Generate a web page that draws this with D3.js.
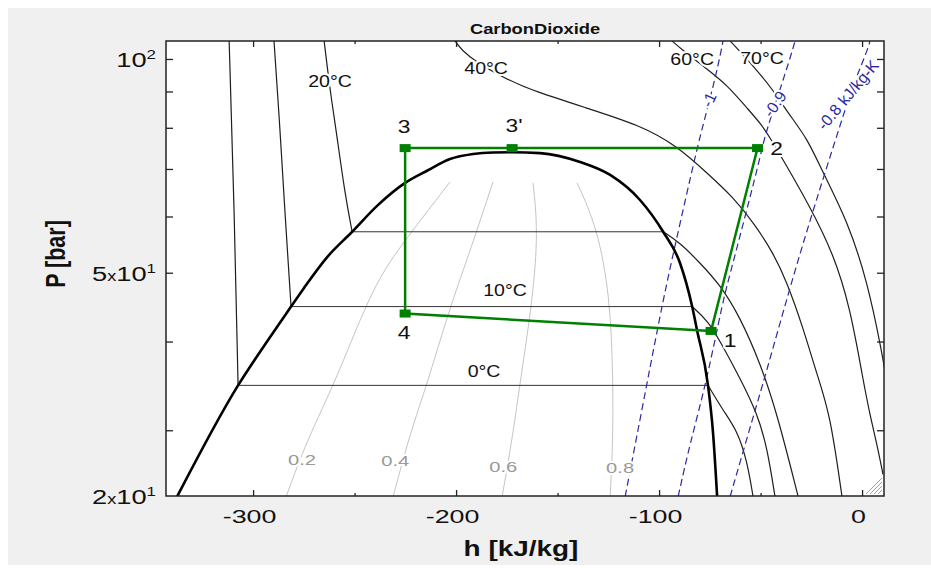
<!DOCTYPE html>
<html>
<head>
<meta charset="utf-8">
<title>CarbonDioxide P-h</title>
<script src="https://cdn.jsdelivr.net/npm/d3@7"></script>
<style>
body { margin:0; background:#fff; }
svg text { font-family: "Liberation Sans", Arial, sans-serif; }
</style>
</head>
<body>
<svg id="chart" width="931" height="568"></svg>
<script>
// h in kJ/kg, P in bar
var hTicks = [-300, -200, -100, 0];
var hMinor = [-250, -150, -50];
var pTicks = [30, 40, 50, 60, 70, 80, 90, 100];
var pLabelVals = [24.24, 50, 100];
var pLabelMant = ["2", "5", ""];
var pLabelExp = ["1", "1", "2"];

// saturation dome, liquid side -> critical point -> vapour side
var satDome = [[-337.4,24.2],[-307.4,34.7],[-291.6,40.6],[-281.3,44.8],[-274.9,47.6],[-263.5,52.6],
  [-251.2,57.1],[-238.4,62.3],[-225.1,66.9],[-214.3,69.6],[-203.0,72.3],[-191.6,73.5],[-181.8,73.85],
  [-172.4,73.9],[-158.6,73.7],[-138.9,71.6],[-124.1,68.65],[-109.4,63.3],[-98.0,57.1],[-89.7,51.6],
  [-83.7,44.8],[-81.3,41.5],[-75.9,34.7],[-73.4,29.7],[-71.4,24.2]];

// isotherms (liquid part / vapour part)
var iso0Liq = [[-311.8,106],[-309.4,63.3],[-307.4,34.7]];
var iso0Vap = [[-75.9,34.7],[-68.5,32.0],[-61.6,30.0],[-56.7,27.2],[-53.7,24.2]];
var iso10Liq = [[-289.7,106],[-286.7,79.4],[-284.7,63.3],[-281.3,44.8]];
var iso10Vap = [[-83.7,44.8],[-75.9,42.8],[-69.0,39.6],[-60.1,35.5],[-51.7,31.7],[-46.8,28.4],[-42.9,24.2]];
var iso20Liq = [[-265.0,106],[-262.1,90.4],[-259.1,79.4],[-254.7,64.4],[-251.2,57.1]];
var iso20Vap = [[-98.0,57.1],[-89.7,55.1],[-79.8,51.6],[-70.0,48.1],[-60.1,43.3],[-50.2,37.3],[-41.9,31.7],[-31.5,24.2]];
var iso40 = [[-200.5,106],[-195.6,101.3],[-175.9,93.7],[-160.1,89.8],[-137.4,85.6],[-109.4,80.7],[-91.1,75.4],
  [-76.4,69.1],[-63.5,63.9],[-52.7,58.4],[-43.8,53.3],[-37.4,48.8],[-29.1,41.9],[-22.2,35.9],[-15.8,31.7],[-9.9,24.2]];
var iso60 = [[-93.6,106],[-89.7,103.6],[-75.9,96.5],[-66.5,91.9],[-56.7,85.3],[-49.3,80.7],[-45.3,77.4],
  [-38.9,72.1],[-25.6,61.9],[-14.3,53.3],[-5.9,44.75],[0.5,35.3],[3.9,31.5],[7.4,28.6],[10.3,26.0]];
var iso70 = [[-65.0,106],[-62.6,104.3],[-52.7,97.1],[-43.8,90.4],[-36.5,83.9],[-27.1,77.4],[-19.2,69.1],
  [-7.4,59.3],[2.5,48.8],[9.9,38.5],[12.8,34.2]];

// vapour quality lines
var q02 = [[-283.7,24.2],[-273.4,29.1],[-258.6,35.5],[-240.8,48.1],[-225.1,55.6],[-203.0,67.1]];
var q04 = [[-231.0,24.2],[-222.7,29.7],[-214.3,34.8],[-203.0,44.75],[-194.6,52.1],[-181.8,67.1]];
var q06 = [[-177.3,24.2],[-171.9,29.7],[-168.5,35.0],[-162.1,46.2],[-159.6,57.4],[-162.1,66.9]];
var q08 = [[-124.1,24.2],[-122.7,29.1],[-122.7,35.5],[-124.1,46.2],[-130.5,58.0],[-140.4,66.9]];

// isentropes [kJ/kg-K]
var sM10 = [[-116.7,24.2],[-105.9,35.0],[-98.0,45.8],[-92.1,54.7],[-81.3,74.9],[-78.3,80.7],[-71.4,96.2],[-68.5,106]];
var sM09 = [[-90.6,24.2],[-84.7,28.8],[-76.4,35.3],[-68.5,45.8],[-64.5,50.4],[-51.2,70.7],[-49.3,74.9],
  [-46.3,80.7],[-36.9,97.1],[-33.0,106]];
var sM08 = [[-65.0,24.2],[-53.7,31.3],[-47.8,35.7],[-35.5,47.7],[-25.6,59.3],[-17.2,70.7],[-10.8,80.7],
  [-4.4,91.9],[2.5,102.6],[3.9,106]];

// cycle states
var cycleNames = ["1", "2", "3'", "3", "4"];
var cycleH = [-74.4, -51.5, -172.4, -225.1, -225.1];
var cycleP = [41.4, 74.9, 74.9, 74.9, 43.8];

// curve labels: text, h, P
var isoLabels = [["20°C",-262.1,91.3],["40°C",-185.2,95.2],["60°C",-83.7,98.1],["70°C",-49.3,98.4],
  ["10°C",-175.9,46.4],["0°C",-186.2,35.7]];
var qLabels = [["0.2",-275.9,26.8],["0.4",-230.0,26.7],["0.6",-176.8,26.2],["0.8",-119.2,26.1]];
var sLabels = [["-1",-75.4,87.6],["-0.9",-42.9,86.4],["-0.8 kJ/kg-K",-6.9,89.0]];

var svg = d3.select("#chart");
var plotL = 166, plotR = 884, plotT = 41, plotB = 496;

var x = d3.scaleLinear().domain([-342.9, 10.8]).range([plotL, plotR]);
var y = d3.scaleLog().domain([24.24, 106]).range([plotB, plotT]);

svg.append("rect").attr("x", 8).attr("y", 8).attr("width", 923).attr("height", 557).attr("fill", "#f0f0f0");
svg.append("rect").attr("x", plotL).attr("y", plotT).attr("width", plotR - plotL).attr("height", plotB - plotT).attr("fill", "#fff");

svg.append("clipPath").attr("id", "plotclip").append("rect")
  .attr("x", plotL).attr("y", plotT).attr("width", plotR - plotL).attr("height", plotB - plotT);
var plot = svg.append("g").attr("clip-path", "url(#plotclip)");

function lineWith(c){
  return d3.line().x(function(d){ return x(d[0]); }).y(function(d){ return y(d[1]); }).curve(c);
}
var smooth = lineWith(d3.curveBasis);
var dome = lineWith(d3.curveMonotoneX);
var straight = lineWith(d3.curveLinear);

// quality lines
[q02, q04, q06, q08].forEach(function(q){
  plot.append("path").attr("d", smooth(q)).attr("fill", "none").attr("stroke", "#c4c4c4").attr("stroke-width", 1);
});

// isotherms
[[iso0Liq, iso0Vap], [iso10Liq, iso10Vap], [iso20Liq, iso20Vap]].forEach(function(p){
  plot.append("path").attr("d", straight([p[0][p[0].length - 1], p[1][0]]))
    .attr("fill", "none").attr("stroke", "#333").attr("stroke-width", 1);
  p.forEach(function(part){
    plot.append("path").attr("d", smooth(part)).attr("fill", "none").attr("stroke", "#1e1e1e").attr("stroke-width", 1.2);
  });
});
[iso40, iso60, iso70].forEach(function(t){
  plot.append("path").attr("d", smooth(t)).attr("fill", "none").attr("stroke", "#1e1e1e").attr("stroke-width", 1.2);
});

// isentropes
[sM10, sM09, sM08].forEach(function(s){
  plot.append("path").attr("d", smooth(s)).attr("fill", "none").attr("stroke", "#2a2aa0")
    .attr("stroke-width", 1.2).attr("stroke-dasharray", "7,4");
});

// saturation dome
plot.append("path").attr("d", dome(satDome)).attr("fill", "none").attr("stroke", "#000").attr("stroke-width", 2.6);

// labels on curves (white halo cuts the lines)
function halo(sel){
  return sel.attr("stroke", "#fff").attr("stroke-width", 4).attr("paint-order", "stroke").attr("stroke-linejoin", "round");
}
isoLabels.forEach(function(l){
  halo(plot.append("text").text(l[0]).attr("text-anchor", "middle").attr("font-size", 17).attr("fill", "#111")
    .attr("transform", "translate(" + x(l[1]) + "," + y(l[2]) + ") scale(1.15,1)"));
});
qLabels.forEach(function(l){
  halo(plot.append("text").text(l[0]).attr("text-anchor", "middle").attr("font-size", 15.5).attr("fill", "#999")
    .attr("transform", "translate(" + x(l[1]) + "," + y(l[2]) + ") scale(1.3,1)"));
});
var sAngles = [-65, -55, -50];
sLabels.forEach(function(l, i){
  halo(plot.append("text").text(l[0]).attr("text-anchor", "middle").attr("dominant-baseline", "central")
    .attr("font-size", 16).attr("fill", "#2a2aa0")
    .attr("transform", "translate(" + x(l[1]) + "," + y(l[2]) + ") rotate(" + sAngles[i] + ")"));
});

// cycle
var cyc = cycleH.map(function(h, i){ return [h, cycleP[i]]; });
plot.append("path").attr("d", straight(cyc.concat([cyc[0]]))).attr("fill", "none")
  .attr("stroke", "#008000").attr("stroke-width", 2.5);
plot.selectAll("rect.state").data(cyc).enter().append("rect").attr("class", "state")
  .attr("x", function(d){ return x(d[0]) - 5.5; }).attr("y", function(d){ return y(d[1]) - 4; })
  .attr("width", 11).attr("height", 8).attr("fill", "#008000");
var labelOff = [[19, 16], [19, 7], [2, -16], [-1, -15], [-1, 25]];
cyc.forEach(function(d, i){
  halo(plot.append("text").text(cycleNames[i]).attr("text-anchor", "middle").attr("font-size", 19).attr("fill", "#111")
    .attr("transform", "translate(" + (x(d[0]) + labelOff[i][0]) + "," + (y(d[1]) + labelOff[i][1]) + ") scale(1.2,1)"));
});

// size grip in the corner
for (var i = 0; i < 4; i++) {
  svg.append("line").attr("x1", 866 + 4 * i).attr("y1", 494).attr("x2", 882).attr("y2", 478 + 4 * i)
    .attr("stroke", "#a0a0a0").attr("stroke-width", 1);
}

// frame and ticks
svg.append("rect").attr("x", plotL).attr("y", plotT).attr("width", plotR - plotL).attr("height", plotB - plotT)
  .attr("fill", "none").attr("stroke", "#222").attr("stroke-width", 1.5);

function tickStyle(g){
  g.select(".domain").remove();
  g.attr("color", "#222").attr("font-family", null).attr("font-size", null);
  g.selectAll(".tick line").attr("stroke-width", 1.3);
}
var gx = svg.append("g").attr("transform", "translate(0," + plotB + ")")
  .call(d3.axisBottom(x).tickValues(hTicks).tickSize(-6).tickFormat(function(d){ return String(d); }));
tickStyle(gx);
gx.selectAll(".tick text").attr("y", null).attr("dy", null).attr("font-size", 18.5).attr("fill", "#111")
  .attr("transform", "translate(-4,27) scale(1.45,1)");
svg.append("g").attr("transform", "translate(0," + plotB + ")")
  .call(d3.axisBottom(x).tickValues(hMinor).tickSize(-3).tickFormat(function(){ return ""; })).call(tickStyle);
svg.append("g").attr("transform", "translate(0," + plotT + ")")
  .call(d3.axisTop(x).tickValues(hTicks).tickSize(-6).tickFormat(function(){ return ""; })).call(tickStyle);
svg.append("g").attr("transform", "translate(0," + plotT + ")")
  .call(d3.axisTop(x).tickValues(hMinor).tickSize(-3).tickFormat(function(){ return ""; })).call(tickStyle);
svg.append("g").attr("transform", "translate(" + plotL + ",0)")
  .call(d3.axisLeft(y).tickValues(pTicks).tickSize(-7).tickFormat(function(){ return ""; })).call(tickStyle);
svg.append("g").attr("transform", "translate(" + plotR + ",0)")
  .call(d3.axisRight(y).tickValues(pTicks).tickSize(-7).tickFormat(function(){ return ""; })).call(tickStyle);

pLabelVals.forEach(function(v, i){
  var t = svg.append("text").attr("text-anchor", "end").attr("fill", "#111")
    .attr("transform", "translate(156," + (y(v) + 8) + ") scale(1.3,1)");
  if (pLabelMant[i]) {
    t.append("tspan").attr("font-size", 21).text(pLabelMant[i]);
    t.append("tspan").attr("font-size", 14).text("x");
  }
  t.append("tspan").attr("font-size", 21).text("10");
  t.append("tspan").attr("font-size", 13).attr("dy", -8).text(pLabelExp[i]);
});

// titles
svg.append("text").text("CarbonDioxide").attr("text-anchor", "middle").attr("font-weight", "bold")
  .attr("font-size", 15.4).attr("fill", "#111").attr("transform", "translate(535,34) scale(1.19,1)");
svg.append("text").text("h [kJ/kg]").attr("text-anchor", "middle").attr("font-weight", "bold")
  .attr("font-size", 22).attr("fill", "#111").attr("transform", "translate(521,556) scale(1.27,1)");
svg.append("text").text("P [bar]").attr("text-anchor", "middle").attr("font-weight", "bold")
  .attr("font-size", 21.5).attr("fill", "#111").attr("transform", "translate(65,254) scale(1.3,1) rotate(-90)");
</script>
</body>
</html>
